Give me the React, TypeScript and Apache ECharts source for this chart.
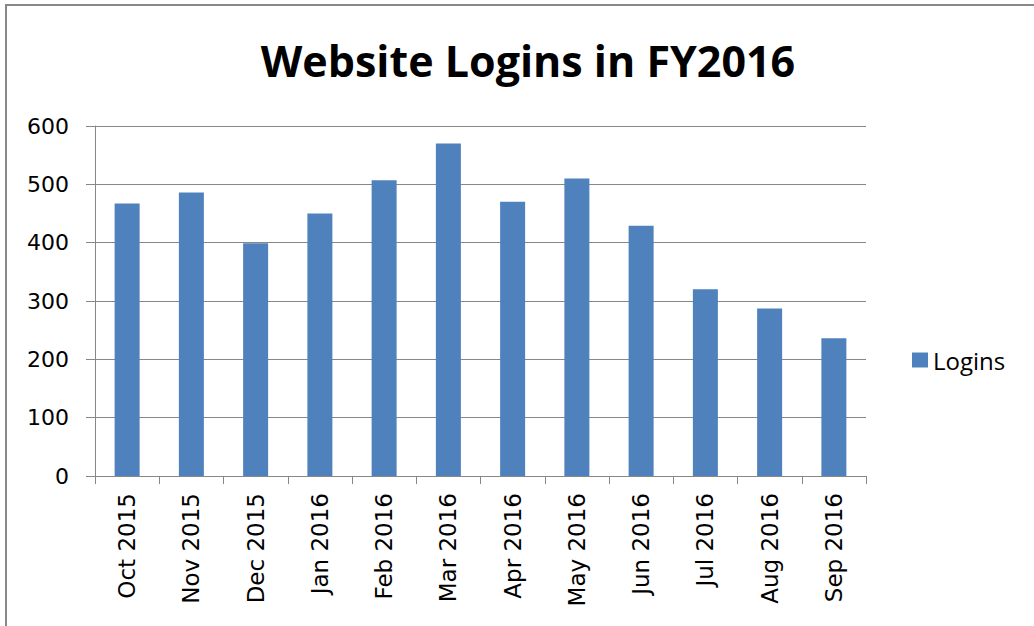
import React, { useEffect, useRef } from "react";
import * as echarts from "echarts";

const categories = [
  "Oct 2015", "Nov 2015", "Dec 2015", "Jan 2016", "Feb 2016", "Mar 2016",
  "Apr 2016", "May 2016", "Jun 2016", "Jul 2016", "Aug 2016", "Sep 2016",
];
const logins = [467, 486, 399, 450, 507, 570, 470, 510, 429, 320, 287, 236];
const seriesName = "Logins";
const titleText = "Website Logins in FY2016";

export default function App() {
  const ref = useRef<HTMLDivElement>(null);
  useEffect(() => {
    document.body.style.margin = "0";
    const chart = echarts.init(ref.current!, undefined, { renderer: "svg" });
    const gray = "#878787";
    chart.setOption({
      animation: false,
      backgroundColor: "#ffffff",
      title: {
        text: titleText,
        left: 523,
        top: 34,
        textAlign: "center",
        textStyle: {
          fontFamily: "Open Sans",
          fontWeight: "bold",
          fontSize: 43,
          color: "#000000",
        },
      },
      legend: {
        data: [seriesName],
        left: 907,
        top: 343,
        icon: "rect",
        itemWidth: 16,
        itemHeight: 15,
        itemGap: 8,
        textStyle: { fontFamily: "Open Sans", fontSize: 24, color: "#000000" },
      },
      grid: { left: 95, right: 168, top: 126, bottom: 150, containLabel: false },
      xAxis: {
        type: "category",
        data: categories,
        boundaryGap: true,
        axisLine: { show: true, lineStyle: { color: gray, width: 1 } },
        axisTick: { show: true, length: 8, alignWithLabel: false, lineStyle: { color: gray } },
        axisLabel: {
          rotate: 90,
          margin: 17,
          fontFamily: "DejaVu Sans",
          fontSize: 23,
          color: "#000000",
          interval: 0,
        },
        splitLine: { show: false },
      },
      yAxis: {
        type: "value",
        min: 0,
        max: 600,
        interval: 100,
        axisLine: { show: true, lineStyle: { color: gray, width: 1 } },
        axisTick: { show: true, length: 9, lineStyle: { color: gray } },
        axisLabel: {
          margin: 26,
          fontFamily: "DejaVu Sans",
          fontSize: 22,
          color: "#000000",
        },
        splitLine: { show: true, lineStyle: { color: gray, width: 1 } },
      },
      series: [
        {
          name: seriesName,
          type: "bar",
          data: logins,
          barWidth: 25,
          itemStyle: { color: "#4F81BD" },
        },
      ],
      graphic: [
        { type: "line", shape: { x1: 5, y1: 5, x2: 1034, y2: 5 }, style: { stroke: "#888888", lineWidth: 2 } },
        { type: "line", shape: { x1: 6, y1: 4, x2: 6, y2: 626 }, style: { stroke: "#888888", lineWidth: 2 } },
      ],
    });
    return () => chart.dispose();
  }, []);
  return <div ref={ref} style={{ width: 1034, height: 626 }} />;
}
